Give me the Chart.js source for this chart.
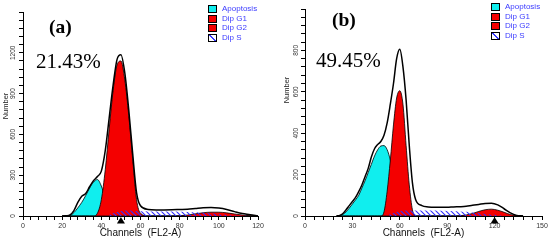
<!DOCTYPE html>
<html>
<head>
<meta charset="utf-8">
<script src="https://cdn.jsdelivr.net/npm/chart.js@4.4.1/dist/chart.umd.min.js"></script>
<style>
  body { margin: 0; width: 550px; height: 242px; overflow: hidden; background: #fff; position: relative; }
  canvas { position: absolute; top: 0; }
  #ca { left: 0; }
  #cb { left: 275px; }
  .t { position: absolute; white-space: nowrap; line-height: 1; font-family: "Liberation Serif", "Times New Roman", serif; color: #000; }
  .lg { position: absolute; font: 8px Arial, "Liberation Sans", sans-serif; color: #3b3bff; }
  .lg div { position: relative; height: 9.5px; line-height: 9.5px; padding-left: 14px; }
  .lg i { position: absolute; left: 0; top: 1px; width: 7px; height: 6px; border: 1px solid #000; }
  .yt { position: absolute; font: 7.5px Arial, "Liberation Sans", sans-serif; color: #222; transform: translate(-50%, -50%) rotate(-90deg); white-space: nowrap; }
</style>
</head>
<body>
<canvas id="ca" width="275" height="242"></canvas>
<canvas id="cb" width="275" height="242"></canvas>

<div class="t" style="left:49px;top:17px;font-size:19.5px;font-weight:bold">(a)</div>
<div class="t" style="left:36px;top:51px;font-size:21px">21.43%</div>
<div class="t" style="left:332px;top:10px;font-size:19.5px;font-weight:bold">(b)</div>
<div class="t" style="left:316px;top:50px;font-size:21px">49.45%</div>

<div class="yt" style="left:5px;top:106px">Number</div>
<div class="yt" style="left:286px;top:90px">Number</div>

<div class="lg" style="left:208px;top:4px">
  <div><i style="background:#10eeee"></i>Apoptosis</div>
  <div><i style="background:#f40000"></i>Dip G1</div>
  <div><i style="background:#f40000"></i>Dip G2</div>
  <div><i style="background:linear-gradient(to top right,#fff 42%,#3b3bff 42%,#3b3bff 58%,#fff 58%)"></i>Dip S</div>
</div>
<div class="lg" style="left:491px;top:2px">
  <div><i style="background:#10eeee"></i>Apoptosis</div>
  <div><i style="background:#f40000"></i>Dip G1</div>
  <div><i style="background:#f40000"></i>Dip G2</div>
  <div><i style="background:linear-gradient(to top right,#fff 42%,#3b3bff 42%,#3b3bff 58%,#fff 58%)"></i>Dip S</div>
</div>

<script>
// panel (a)
const channelsA = [20, 22, 24, 26, 28, 30, 32, 34, 36, 38, 40, 42, 44, 46, 48, 50, 52, 54, 56, 58, 60,
                   64, 68, 72, 76, 80, 84, 88, 92, 96, 100, 104, 108, 112, 116, 120];
const apoptosisA = [0, 0, 3, 25, 60, 100, 150, 205, 250, 268, 220, 130, 50, 10, 0, 0, 0, 0, 0, 0, 0,
                    0, 0, 0, 0, 0, 0, 0, 0, 0, 0, 0, 0, 0, 0, 0];
const dipG1A = [0, 0, 0, 0, 0, 0, 0, 0, 0, 20, 120, 340, 640, 920, 1110, 1140, 1000, 740, 420, 120, 20,
                0, 0, 0, 0, 0, 0, 0, 0, 0, 0, 0, 0, 0, 0, 0];
const dipG2A = [0, 0, 0, 0, 0, 0, 0, 0, 0, 0, 0, 0, 0, 0, 0, 0, 0, 0, 0, 0, 0,
                0, 0, 0, 0, 2, 7, 16, 24, 28, 28, 23, 15, 7, 2, 0];
const dipSA = [0, 0, 0, 0, 0, 0, 0, 0, 0, 0, 0, 0, 8, 20, 30, 36, 40, 40, 38, 36, 35,
               34, 34, 34, 33, 32, 30, 27, 23, 18, 13, 8, 4, 1, 0, 0];
const histA = [0, 2, 8, 40, 100, 145, 165, 215, 260, 290, 330, 480, 720, 960, 1150, 1185, 1050, 780, 460, 170, 75,
               48, 45, 45, 46, 48, 50, 55, 60, 62, 58, 48, 32, 18, 10, 0];
const markA = [50];

// panel (b)
const channelsB = [20, 22, 24, 26, 28, 30, 32, 34, 36, 38, 40, 42, 44, 46, 48, 50, 52, 54, 56, 58, 60, 62, 64, 66, 68, 70,
                   74, 78, 82, 86, 90, 94, 98, 102, 106, 110, 114, 118, 122, 126, 130, 134, 138];
const apoptosisB = [0, 2, 8, 20, 38, 58, 78, 100, 135, 170, 210, 250, 290, 320, 338, 340, 320, 270, 190, 100, 35, 5, 0, 0, 0, 0,
                    0, 0, 0, 0, 0, 0, 0, 0, 0, 0, 0, 0, 0, 0, 0, 0, 0];
const dipG1B = [0, 0, 0, 0, 0, 0, 0, 0, 0, 0, 0, 0, 0, 0, 0, 20, 120, 270, 440, 570, 605, 540, 340, 150, 30, 0,
                0, 0, 0, 0, 0, 0, 0, 0, 0, 0, 0, 0, 0, 0, 0, 0, 0];
const dipG2B = [0, 0, 0, 0, 0, 0, 0, 0, 0, 0, 0, 0, 0, 0, 0, 0, 0, 0, 0, 0, 0, 0, 0, 0, 0, 0,
                0, 0, 0, 0, 0, 0, 1, 5, 12, 22, 30, 33, 28, 18, 7, 1, 0];
const dipSB = [0, 0, 0, 0, 0, 0, 0, 0, 0, 0, 0, 0, 0, 0, 0, 0, 3, 8, 14, 20, 24, 26, 27, 27, 27, 27,
               26, 26, 26, 25, 24, 23, 22, 20, 17, 14, 10, 7, 4, 1, 0, 0, 0];
const histB = [0, 3, 12, 30, 50, 70, 90, 118, 150, 190, 230, 285, 325, 345, 360, 390, 450, 540, 640, 760, 805, 720, 560, 340, 160, 80,
               50, 44, 42, 42, 42, 44, 45, 47, 52, 56, 60, 62, 54, 35, 15, 3, 0];
const markB = [120];

const CYAN = '#10eeee';
const RED = '#f40000';

// blue "\" hatching for the S phase
const hatchCanvas = document.createElement('canvas');
hatchCanvas.width = 5;
hatchCanvas.height = 5;
const hc = hatchCanvas.getContext('2d');
hc.strokeStyle = '#2f2fff';
hc.lineWidth = 1.1;
hc.beginPath();
hc.moveTo(0, 0); hc.lineTo(5, 5);
hc.moveTo(-1, 4); hc.lineTo(1, 6);
hc.moveTo(4, -1); hc.lineTo(6, 1);
hc.stroke();
const hatch = hc.createPattern(hatchCanvas, 'repeat');

// black triangle under the x axis
const markerPlugin = {
  id: 'marker',
  afterDraw(chart, args, opts) {
    const ctx = chart.ctx;
    const b = chart.chartArea.bottom;
    ctx.save();
    ctx.fillStyle = '#000';
    opts.at.forEach(v => {
      const px = chart.scales.x.getPixelForValue(v);
      ctx.beginPath();
      ctx.moveTo(px, b + 1);
      ctx.lineTo(px - 4, b + 7.5);
      ctx.lineTo(px + 4, b + 7.5);
      ctx.closePath();
      ctx.fill();
    });
    ctx.restore();
  }
};

function pts(ch, vals) {
  return ch.map((c, i) => ({ x: c, y: vals[i] }));
}

function area(data, color, order) {
  return {
    data: data, showLine: true, fill: 'origin', backgroundColor: color,
    borderColor: '#000', borderWidth: 0.8, pointRadius: 0,
    cubicInterpolationMode: 'monotone', order: order
  };
}

function build(id, ch, apop, g1, g2, s, hist, marks, ax) {
  const tickFont = { family: 'Arial, "Liberation Sans", sans-serif', size: 7 };
  return new Chart(document.getElementById(id), {
    type: 'scatter',
    data: {
      datasets: [
        { data: pts(ch, hist), showLine: true, fill: false, borderColor: '#000', borderWidth: 1.5,
          pointRadius: 0, cubicInterpolationMode: 'monotone', order: 0 },
        Object.assign(area(pts(ch, s), hatch, 1), { borderWidth: 0 }),
        area(pts(ch, g2), RED, 2),
        area(pts(ch, g1), RED, 3),
        area(pts(ch, apop), CYAN, 4)
      ]
    },
    options: {
      responsive: false,
      animation: false,
      layout: { padding: { left: 0, right: ax.padRight, top: ax.padTop, bottom: 0 } },
      plugins: { legend: { display: false }, tooltip: { enabled: false }, marker: { at: marks } },
      scales: {
        x: {
          type: 'linear', min: 0, max: ax.xMax,
          grid: { drawOnChartArea: false, tickLength: 4, color: '#000' },
          border: { color: '#000', width: 1 },
          ticks: {
            stepSize: ax.xStep, autoSkip: false, maxRotation: 0, minRotation: 0, padding: 2,
            color: '#333', font: tickFont,
            callback: v => (v % ax.xMajor === 0 ? v : '')
          },
          title: {
            display: true, text: 'Channels  (FL2-A)', color: '#111',
            font: { family: 'Arial, "Liberation Sans", sans-serif', size: 10 },
            padding: { top: 0, bottom: 3 }
          },
          afterFit: sc => { sc.height = 26; }
        },
        y: {
          type: 'linear', min: 0, max: ax.yMax,
          grid: { drawOnChartArea: false, tickLength: 4, color: '#000' },
          border: { color: '#000', width: 1 },
          ticks: {
            stepSize: ax.yStep, autoSkip: false, minRotation: 90, maxRotation: 90,
            crossAlign: 'center', padding: -1, color: '#333',
            font: { family: 'Arial, "Liberation Sans", sans-serif', size: 6.5 },
            callback: v => (v % ax.yMajor === 0 && v <= ax.yLabelMax ? v : '')
          },
          afterFit: sc => { sc.width = ax.yWidth; }
        }
      }
    },
    plugins: [markerPlugin]
  });
}

build('ca', channelsA, apoptosisA, dipG1A, dipG2A, dipSA, histA, markA,
  { xMax: 120, xStep: 4, xMajor: 20, yMax: 1500, yStep: 60, yMajor: 300, yLabelMax: 1200,
    yWidth: 23, padRight: 17, padTop: 12 });

build('cb', channelsB, apoptosisB, dipG1B, dipG2B, dipSB, histB, markB,
  { xMax: 150, xStep: 6, xMajor: 30, yMax: 1000, yStep: 40, yMajor: 200, yLabelMax: 800,
    yWidth: 30, padRight: 8, padTop: 9 });
</script>
</body>
</html>
